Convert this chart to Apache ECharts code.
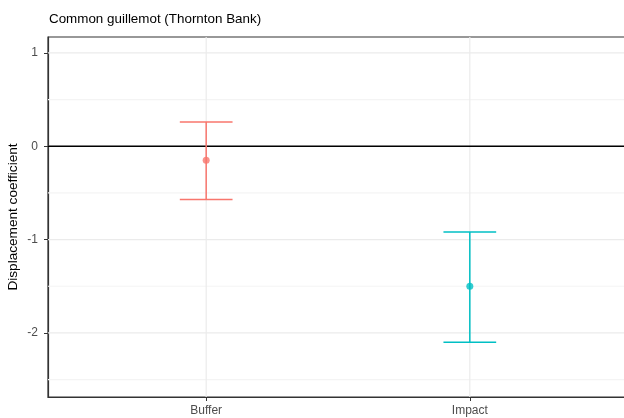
<!DOCTYPE html>
<html>
<head>
<meta charset="utf-8">
<script src="https://cdn.jsdelivr.net/npm/echarts@6/dist/echarts.min.js"></script>
<style>
  html, body { margin: 0; padding: 0; background: #fff; }
  #main { width: 624px; height: 418px; }
</style>
</head>
<body>
<div id="main"></div>
<script>
// data
var categories = ['Buffer', 'Impact'];
var estimates = [-0.15, -1.50];
var lower = [-0.57, -2.10];
var upper = [0.26, -0.92];
var colors = ['#F8766D', '#00BFC4'];
var yTicks = [-2, -1, 0, 1];
var yMinor = [-2.5, -1.5, -0.5, 0.5];

var chartObj = document.getElementById('main');
var chart = echarts.init(chartObj);

var xPos = categories.map(function (c, i) { return i + 1; });

// gridlines: [direction, value, kind]
var gridData = [];
yMinor.forEach(function (v) { gridData.push(['h', v, 'minor']); });
yTicks.forEach(function (v) { gridData.push(['h', v, 'major']); });
xPos.forEach(function (v) { gridData.push(['v', v, 'major']); });
gridData.push(['h', 0, 'zero']);

var barData = xPos.map(function (x, i) {
    return { value: [x, lower[i], upper[i]], itemStyle: { color: colors[i] } };
});
var pointData = xPos.map(function (x, i) {
    return { value: [x, estimates[i]], itemStyle: { color: colors[i] } };
});

var axisText = { color: '#4D4D4D', fontSize: 12, fontFamily: 'Liberation Sans' };

var option = {
    animation: false,
    textStyle: { fontFamily: 'Liberation Sans' },
    title: {
        text: 'Common guillemot (Thornton Bank)',
        left: 44,
        top: 8,
        textStyle: { fontSize: 13.4, fontWeight: 'normal', color: '#000', fontFamily: 'Liberation Sans' }
    },
    grid: {
        left: 48,
        top: 37,
        width: 580,
        height: 360,
        containLabel: false,
        outerBoundsMode: 'none',
        show: true,
        borderColor: '#333333',
        borderWidth: 1.2,
        backgroundColor: '#fff'
    },
    xAxis: {
        type: 'value',
        min: 0.4,
        max: 2.6,
        splitLine: { show: false },
        axisLine: { show: true, onZero: false, lineStyle: { color: '#333333', width: 1.2 } },
        axisTick: { show: true, customValues: xPos, length: 4, lineStyle: { color: '#333333' } },
        axisLabel: Object.assign({
            customValues: xPos,
            margin: 8,
            formatter: function (v) { return categories[Math.round(v) - 1] || ''; }
        }, axisText)
    },
    yAxis: {
        type: 'value',
        min: -2.686,
        max: 1.17,
        name: 'Displacement coefficient',
        nameLocation: 'middle',
        nameGap: 28,
        nameMoveOverlap: false,
        nameRotate: 90,
        nameTextStyle: { fontSize: 13.6, color: '#000', fontFamily: 'Liberation Sans' },
        splitLine: { show: false },
        axisLine: { show: true, onZero: false, lineStyle: { color: '#333333', width: 1.2 } },
        axisTick: { show: true, customValues: yTicks, length: 4, lineStyle: { color: '#333333' } },
        axisLabel: Object.assign({
            customValues: yTicks,
            margin: 10
        }, axisText)
    },
    series: [
        {
            // panel grid + zero line
            type: 'custom',
            z: 1,
            silent: true,
            data: gridData,
            renderItem: function (params, api) {
                var cs = params.coordSys;
                var d = gridData[params.dataIndex];
                var stroke = d[2] === 'minor' ? '#F4F4F4' : (d[2] === 'zero' ? '#000000' : '#EBEBEB');
                var lw = d[2] === 'zero' ? 1.3 : 1.2;
                var shape;
                if (d[0] === 'h') {
                    var y = api.coord([1, d[1]])[1];
                    shape = { x1: cs.x, y1: y, x2: cs.x + cs.width, y2: y };
                } else {
                    var x = api.coord([d[1], 0])[0];
                    shape = { x1: x, y1: cs.y, x2: x, y2: cs.y + cs.height };
                }
                return { type: 'line', z2: d[2] === 'zero' ? 5 : (d[2] === 'major' ? 2 : 1), shape: shape, style: { stroke: stroke, lineWidth: lw } };
            }
        },
        {
            type: 'custom',
            z: 3,
            data: barData,
            renderItem: function (params, api) {
                var x = api.value(0);
                var lo = api.coord([x, api.value(1)]);
                var hi = api.coord([x, api.value(2)]);
                var half = api.size([0.1, 0])[0];
                var style = { stroke: api.visual('color'), lineWidth: 1.5 };
                return {
                    type: 'group',
                    children: [
                        { type: 'line', shape: { x1: lo[0], y1: lo[1], x2: hi[0], y2: hi[1] }, style: style },
                        { type: 'line', shape: { x1: hi[0] - half, y1: hi[1], x2: hi[0] + half, y2: hi[1] }, style: style },
                        { type: 'line', shape: { x1: lo[0] - half, y1: lo[1], x2: lo[0] + half, y2: lo[1] }, style: style }
                    ]
                };
            }
        },
        {
            type: 'scatter',
            z: 4,
            symbol: 'circle',
            symbolSize: 7,
            data: pointData
        }
    ]
};

chart.setOption(option);
</script>
</body>
</html>
